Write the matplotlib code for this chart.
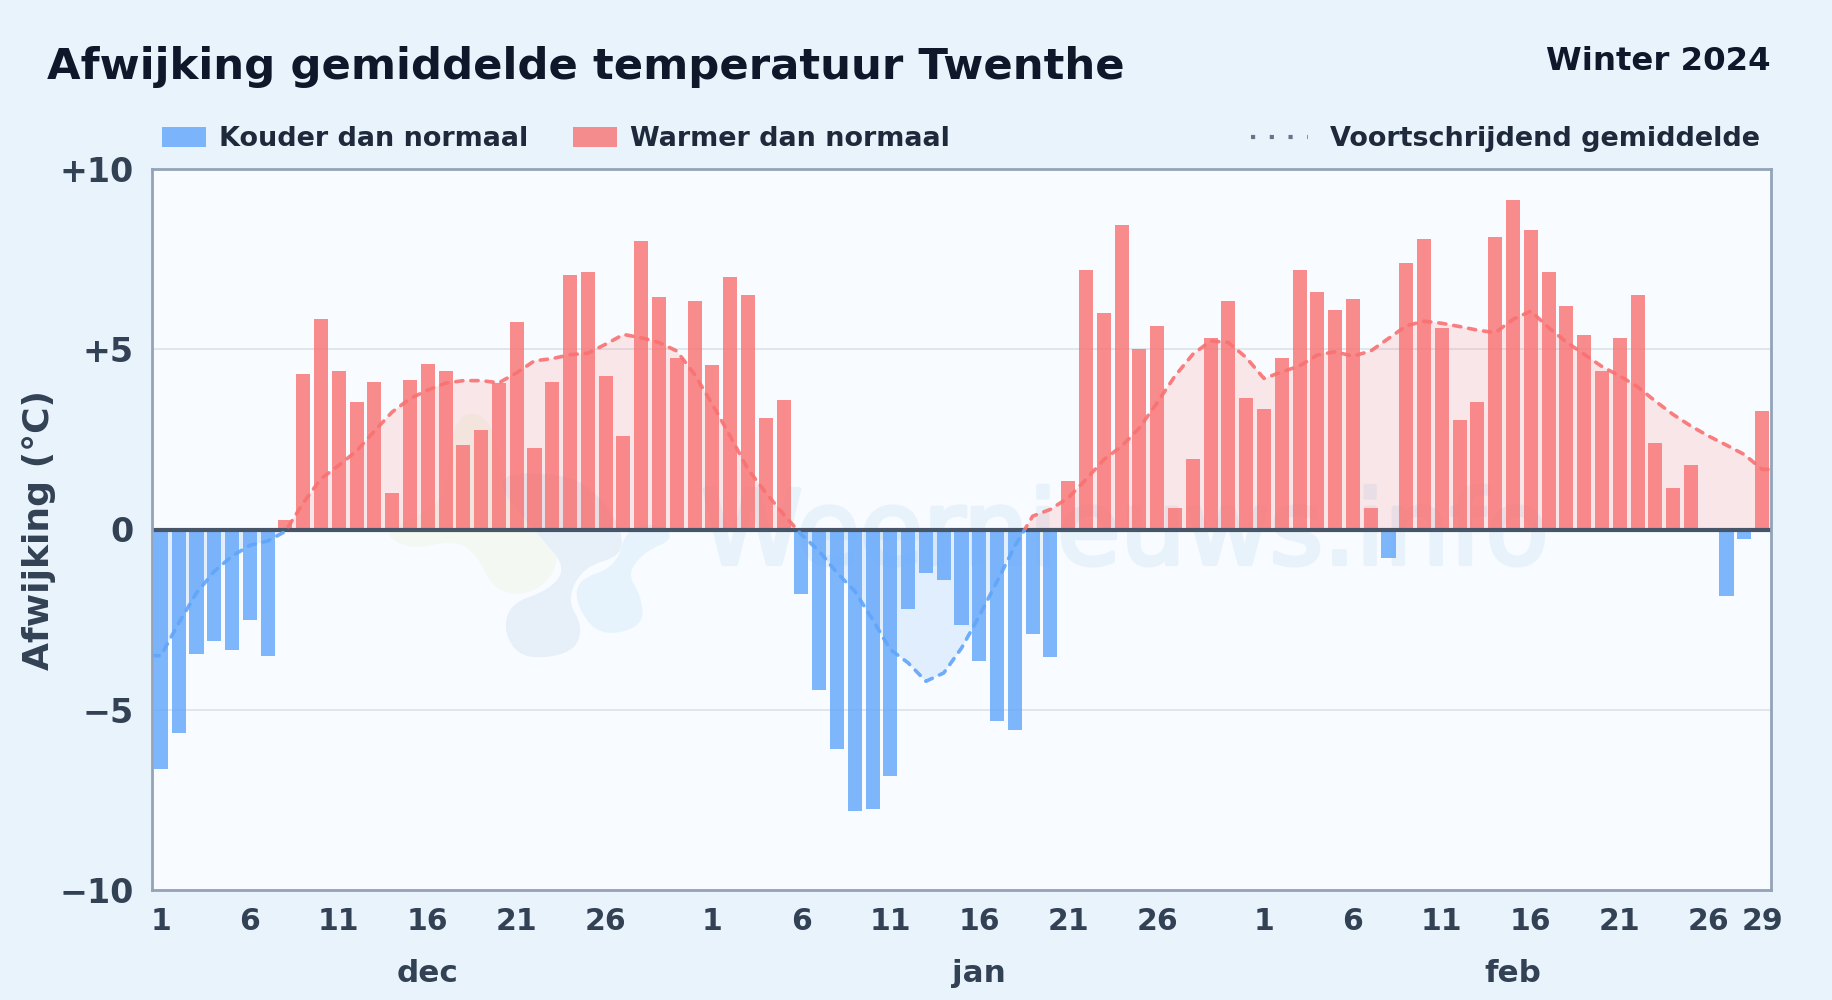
import numpy as np
import matplotlib
matplotlib.use('Agg')
import matplotlib.pyplot as plt
from matplotlib.patches import PathPatch, Rectangle
from matplotlib.path import Path
from matplotlib.transforms import IdentityTransform
import matplotlib.patheffects as pe

# afwijking per dag, 1 dec t/m 29 feb
dec = [-6.65, -5.65, -3.45, -3.1, -3.35, -2.5, -3.5, 0.25, 4.3, 5.85, 4.4, 3.55, 4.1, 1.0, 4.15, 4.6,
       4.4, 2.35, 2.75, 4.05, 5.75, 2.25, 4.1, 7.05, 7.15, 4.25, 2.6, 8.0, 6.45, 4.75, 6.35]
jan = [4.55, 7.0, 6.5, 3.1, 3.6, -1.8, -4.45, -6.1, -7.8, -7.75, -6.85, -2.2, -1.2, -1.4, -2.65, -3.65,
       -5.3, -5.55, -2.9, -3.55, 1.35, 7.2, 6.0, 8.45, 5.0, 5.65, 0.6, 1.95, 5.3, 6.35, 3.65]
feb = [3.35, 4.75, 7.2, 6.6, 6.1, 6.4, 0.6, -0.8, 7.4, 8.05, 5.6, 3.05, 3.55, 8.1, 9.15, 8.3, 7.15, 6.2,
       5.4, 4.4, 5.3, 6.5, 2.4, 1.15, 1.8, 0.0, -1.85, -0.25, 3.3]

# voortschrijdend gemiddelde
avg_dec = [-3.5, -2.6, -1.76, -1.16, -0.74, -0.44, -0.32, -0.05, 0.74, 1.41, 1.78, 2.18, 2.73, 3.26, 3.63, 3.87,
           4.06, 4.13, 4.13, 4.07, 4.35, 4.68, 4.74, 4.85, 4.89, 5.14, 5.41, 5.32, 5.19, 4.95, 4.3]
avg_jan = [3.47, 2.59, 1.67, 1.02, 0.42, -0.14, -0.6, -1.2, -1.71, -2.5, -3.33, -3.7, -4.21, -3.98, -3.29, -2.4,
           -1.44, -0.46, 0.37, 0.56, 0.88, 1.39, 1.94, 2.31, 2.82, 3.52, 4.26, 4.86, 5.23, 5.19, 4.77]
avg_feb = [4.19, 4.37, 4.54, 4.84, 4.93, 4.81, 4.95, 5.3, 5.65, 5.78, 5.72, 5.63, 5.53, 5.46, 5.83, 6.06, 5.6, 5.2,
           4.86, 4.52, 4.26, 3.96, 3.56, 3.19, 2.87, 2.59, 2.34, 2.08, 1.67]

day_labels = ['1', '6', '11', '16', '21', '26', '1', '6', '11', '16', '21', '26',
              '1', '6', '11', '16', '21', '26', '29']
day_ticks = [0, 5, 10, 15, 20, 25, 31, 36, 41, 46, 51, 56, 62, 67, 72, 77, 82, 87, 90]
month_labels = ['dec', 'jan', 'feb']
month_pos = [15, 46, 76]
y_ticks = [-10, -5, 0, 5, 10]
y_labels = ['\u221210', '\u22125', '0', '+5', '+10']

RED = '#f87171'
BLUE = '#60a5fa'
W, H = 1832, 1000

plt.rcParams['font.family'] = 'DejaVu Sans'
plt.rcParams['font.weight'] = 'bold'

values = np.array(dec + jan + feb)
avg = np.array(avg_dec + avg_jan + avg_feb)
x = np.arange(len(values))

fig = plt.figure(figsize=(W / 100, H / 100), dpi=100, facecolor='#e8f3fc')
ax = fig.add_axes([152 / W, 1 - 890 / H, (1771 - 152) / W, (890 - 169) / H], facecolor='#f8fbff')


def blob(points, color):
    # gesloten vorm door de middens van de punten
    pts = np.array([(370 + a / 3, H - (400 + b / 3)) for a, b in points])
    mids = (pts + np.roll(pts, -1, axis=0)) / 2
    verts = [mids[-1]]
    codes = [Path.MOVETO]
    for p, m in zip(pts, mids):
        verts += [p, m]
        codes += [Path.CURVE3, Path.CURVE3]
    ax.add_patch(PathPatch(Path(verts, codes), fc=color, ec='none', transform=IdentityTransform(), zorder=0.5))


# watermerk
blob([(40, 400), (120, 450), (250, 420), (320, 460), (370, 570), (470, 590), (560, 520), (560, 420),
      (400, 300), (370, 60), (280, 30), (240, 120), (230, 300), (100, 370)], '#f3f9f2')
blob([(400, 700), (460, 780), (610, 760), (640, 680), (590, 600), (640, 500), (750, 470), (760, 400),
      (700, 300), (600, 220), (350, 220), (500, 400), (590, 500), (540, 570), (420, 610)], '#e7eff9')
blob([(620, 620), (690, 710), (820, 680), (815, 590), (770, 520), (830, 450), (910, 420), (880, 370),
      (770, 380), (740, 500), (620, 540)], '#e6f3fd')
ax.text(701, H - 564, 'Weernieuws.info', transform=IdentityTransform(), fontsize=74, fontweight='normal',
        color='#e8f2fb', ha='left', va='baseline', zorder=0.6,
        path_effects=[pe.withStroke(linewidth=3, foreground='#e8f2fb')])

# lijn loopt door tot aan de randen
xl = np.r_[-0.5, x, 90.5]
yl = np.r_[avg[0], avg, avg[-1]]
ax.fill_between(xl, yl, 0, where=yl >= 0, interpolate=True, color=RED, alpha=0.15, lw=0, zorder=1)
ax.fill_between(xl, yl, 0, where=yl <= 0, interpolate=True, color=BLUE, alpha=0.15, lw=0, zorder=1)

ax.grid(axis='y', color='#e0e7ec', lw=1.4, zorder=1.5)
ax.set_axisbelow(True)

colors = [RED if v >= 0 else BLUE for v in values]
ax.bar(x, values, width=0.79, color=colors, alpha=0.8, lw=0, zorder=2)
ax.axhline(0, color='#475569', lw=3, zorder=3)

for color, y0, y1 in [(RED, 0, 10), (BLUE, -10, 0)]:
    line, = ax.plot(xl, yl, color=color, lw=2.6, alpha=0.9, zorder=4, dashes=(2.0, 2.2),
                    dash_capstyle='round', dash_joinstyle='round')
    line.set_clip_path(Rectangle((-0.5, y0), 91, y1 - y0, transform=ax.transData))

ax.set_xlim(-0.5, 90.5)
ax.set_ylim(-10, 10)
ax.set_xticks(day_ticks)
ax.set_xticklabels(day_labels, fontsize=21.5, color='#334155')
ax.set_yticks(y_ticks)
ax.set_yticklabels(y_labels, fontsize=24, color='#334155')
ax.tick_params(axis='x', length=0, pad=12)
ax.tick_params(axis='y', length=0, pad=13)
for s in ax.spines.values():
    s.set_color('#94a3b8')
    s.set_linewidth(2)
    s.set_zorder(5)

for m, p in zip(month_labels, month_pos):
    ax.text(p, 1 - (974 - 169) / 721, m, transform=ax.get_xaxis_transform(), fontsize=22.3, color='#334155',
            ha='center', va='center')

fig.text(47 / W, 1 - 67.5 / H, 'Afwijking gemiddelde temperatuur Twenthe', fontsize=31.2, color='#0f172a',
         ha='left', va='center')
fig.text(1771 / W, 1 - 61 / H, 'Winter 2024', fontsize=23.3, color='#0f172a', ha='right', va='center')
fig.text(39 / W, 1 - 530 / H, 'Afwijking (\u00b0C)', fontsize=26, color='#334155', rotation=90,
         ha='center', va='center')

# legenda
for x0, col, label in [(162, BLUE, 'Kouder dan normaal'), (573, RED, 'Warmer dan normaal')]:
    fig.patches.append(Rectangle((x0 / W, 1 - 147 / H), 44 / W, 20 / H, transform=fig.transFigure,
                                 fc=col, alpha=0.8, lw=0, figure=fig))
    fig.text((x0 + 57) / W, 1 - 139 / H, label, fontsize=19.45, color='#1e293b', ha='left', va='center')
fig.add_artist(plt.Line2D([1251 / W, 1308 / W], [1 - 137 / H, 1 - 137 / H], color='#64748b', lw=3,
                          dashes=(1.0, 3.5)))
fig.text(1760 / W, 1 - 139 / H, 'Voortschrijdend gemiddelde', fontsize=19.45, color='#1e293b', ha='right', va='center')

fig.savefig('out.png', dpi=100, facecolor=fig.get_facecolor())
